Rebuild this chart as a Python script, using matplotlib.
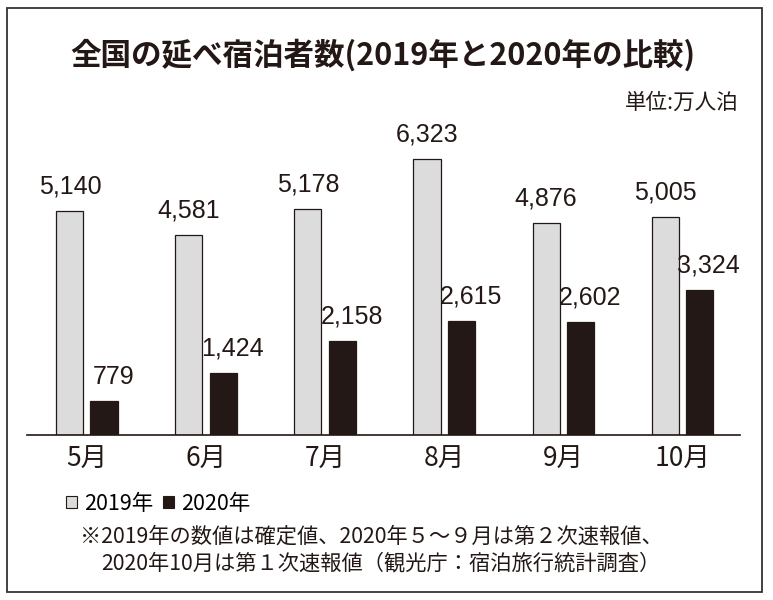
import numpy as np
import matplotlib
matplotlib.use('Agg')
import matplotlib.pyplot as plt
from matplotlib.patches import Rectangle, Patch

plt.rcParams['font.family'] = ['Noto Sans CJK JP', 'DejaVu Sans']

# Data (万人泊)
months = ['5月', '6月', '7月', '8月', '9月', '10月']
stays_2019 = [5140, 4581, 5178, 6323, 4876, 5005]
stays_2020 = [779, 1424, 2158, 2615, 2602, 3324]
series_names = ['2019年', '2020年']

color_2019 = '#dcdcdc'
color_2020 = '#231815'
edge = '#231815'

W, H = 773, 600
fig = plt.figure(figsize=(W / 100, H / 100), dpi=100)

# axes placed in pixel terms: x 27..740, baseline at y=435, top at y=130
ax = fig.add_axes([27 / W, (H - 435) / H, (740 - 27) / W, 305 / H])

x = np.arange(len(months))
bw = 0.227
off = 0.143
bars19 = ax.bar(x - off, stays_2019, width=bw, color=color_2019, edgecolor=edge, linewidth=0.9)
bars20 = ax.bar(x + off, stays_2020, width=bw, color=color_2020, edgecolor=color_2020, linewidth=0.9)

ax.set_xlim(-0.504, 5.487)
ax.set_ylim(0, 7000)

# value labels
for b, v in zip(bars19, stays_2019):
    ax.annotate(f'{v:,}', (b.get_x() + b.get_width() / 2, v), xytext=(0, 12.6),
                textcoords='offset points', ha='center', va='baseline',
                fontsize=18, family='Liberation Sans', color='#231815')
for b, v in zip(bars20, stays_2020):
    ax.annotate(f'{v:,}', (b.get_x() + b.get_width() / 2, v), xytext=(7, 12.6),
                textcoords='offset points', ha='center', va='baseline',
                fontsize=18, family='Liberation Sans', color='#231815')

ax.set_xticks(x)
ax.set_xticklabels(months, fontsize=19, color='#231815')
ax.tick_params(axis='x', length=0, pad=8)
ax.set_yticks([])
for s in ['top', 'right', 'left']:
    ax.spines[s].set_visible(False)
ax.spines['bottom'].set_linewidth(1.2)
ax.spines['bottom'].set_color('#231815')

# title and unit
fig.text(383 / W, 1 - 55 / H, '全国の延べ宿泊者数(2019年と2020年の比較)', ha='center', va='center',
         fontsize=22, fontweight='bold', color='#231815')
fig.text(738 / W, 1 - 103 / H, '単位:万人泊', ha='right', va='center', fontsize=15.5, color='#231815')

# legend
handles = [Patch(facecolor=color_2019, edgecolor=edge, linewidth=0.8),
           Patch(facecolor=color_2020, edgecolor=color_2020, linewidth=0.8)]
fig.legend(handles, series_names, loc='center left', bbox_to_anchor=(66 / W, 1 - 504 / H),
           ncol=2, frameon=False, fontsize=15.5, handlelength=0.5, handleheight=0.5,
           handletextpad=0.35, columnspacing=0.45, borderpad=0, borderaxespad=0)

# footnote
fig.text(80 / W, 1 - 537 / H, '※2019年の数値は確定値、2020年５～９月は第２次速報値、',
         ha='left', va='center', fontsize=15.3, color='#231815')
fig.text(101 / W, 1 - 563 / H, '2020年10月は第１次速報値（観光庁：宿泊旅行統計調査）',
         ha='left', va='center', fontsize=15.3, color='#231815')

# outer frame
fig.patches.append(Rectangle((7 / W, 1 - 592 / H), (762 - 7) / W, (592 - 8) / H,
                             transform=fig.transFigure, fill=False, edgecolor='#333333', linewidth=1.3))

fig.savefig('out.png', dpi=100)
